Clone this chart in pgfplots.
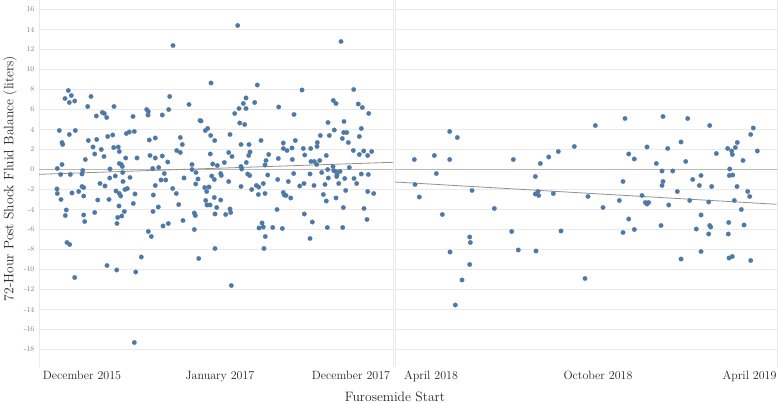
\documentclass[border=0pt]{standalone}
\usepackage{pgfplots}
\pgfplotsset{compat=1.18}

\definecolor{pts}{RGB}{78,121,167}
\definecolor{gridc}{RGB}{234,234,234}
\definecolor{zeroc}{RGB}{185,185,185}
\definecolor{trend}{RGB}{145,145,145}

% x values are positions along the date axis
\pgfplotsset{
  panel/.style={
    scale only axis,
    height=366.7pt,
    ymin=-19.72, ymax=16.95,
    ytick={-18,-16,...,16},
    separate axis lines,
    x axis line style={draw=none},
    y axis line style={draw=gridc},
    major tick length=0pt,
    ymajorgrids,
    grid style={draw=gridc, line width=0.7pt},
    extra y ticks={0},
    extra y tick labels={},
    extra y tick style={grid style={draw=zeroc, line width=0.8pt}},
    xticklabel style={font=\fontsize{12}{12}\selectfont, text=black!85, yshift=-1pt},
    yticklabel style={font=\fontsize{7.5}{8}\selectfont, text=black!50, xshift=-1pt},
    clip=false,
  },
  dots/.style={color=pts, only marks, mark=*, mark size=2.3pt,
    mark options={fill=pts, draw=pts, line width=0.1pt}},
}

\begin{document}
\begin{tikzpicture}
\useasboundingbox (0,0) rectangle (778pt,403pt);

% left panel
\begin{axis}[panel,
  at={(39pt,36.3pt)}, anchor=south west,
  width=354pt,
  xmin=39, xmax=393,
  xtick={82,220,351},
  xticklabels={December 2015, January 2017, December 2017},
  yticklabels={-18,-16,-14,-12,-10,-8,-6,-4,-2,0,2,4,6,8,10,12,14,16},
]
\addplot[trend, line width=0.8pt] coordinates {(39,-0.48) (393,0.72)};
\addplot[dots] coordinates {
(173,12.4)(68.3,7.9)(71.3,7.4)(65,7.1)(91,7.3)(74.7,6.85)(69.3,6.7)(169.7,7.3)(189,6.5)(87.7,6.3)
(114,6.3)(146.7,6.0)(148.3,5.8)(168.7,6.0)(102.3,5.7)(104.3,5.6)(96.3,5.35)(106.7,5.2)(148,5.45)(162.3,5.45)
(133,5.3)(200,4.9)(59.3,3.9)(75.3,3.9)(126.3,3.6)(129.3,3.75)(134.3,3.8)(69.3,3.5)(107.7,3.3)(112.7,3.45)
(180.3,3.2)(88.3,2.9)(96.7,3.0)(149.3,2.95)(155.3,3.15)(62,2.7)(62.7,2.5)(182.3,2.5)(93,2.25)(113.7,2.2)
(118.3,2.25)(101.3,2.0)(119.3,1.8)(176.7,1.9)(180.3,1.7)(94.7,1.55)(150,1.4)(104,1.3)(162.3,1.35)(125.7,1.15)
(137,1.15)(155.3,1.15)(85.3,1.0)(167.7,0.75)(62,0.5)(119.3,0.6)(121.3,0.5)(192,0.5)(122.3,0.3)(57.3,0.1)
(110,0.05)(152.7,0.1)(158.7,0.2)(192,0.0)(82.7,-0.1)(60.7,-0.5)(70.3,-0.5)(82,-0.45)(115.3,-0.65)(122.7,-0.3)
(164.3,-0.4)(196,-0.3)(109.7,-0.85)(130,-0.8)(184,-0.85)(198,-0.95)(123,-1.2)(161,-1.05)(165.7,-1.05)(100,-1.4)
(105,-1.65)(155.3,-1.6)(195.7,-1.45)(82,-1.7)(83.7,-1.8)(127.3,-1.9)(125,-2.0)(172.7,-1.9)(57,-1.95)(57.3,-2.4)
(72,-2.35)(78.7,-2.2)(116,-2.15)(119.3,-2.4)(135,-2.45)(153.3,-2.55)(176.3,-2.4)(61,-3.0)(97.7,-3.05)(109,-3.0)
(83.7,-2.65)(66.3,-4.05)(65.3,-4.6)(83.7,-4.55)(84.7,-5.2)(94.7,-4.3)(120.7,-2.65)(119,-3.65)(121.7,-4.65)(117.7,-4.8)
(124.3,-4.2)(117,-5.4)(133.3,-3.4)(153,-4.2)(158.3,-3.75)(178.7,-3.5)(183,-5.1)(163,-5.65)(168.3,-5.4)(148.3,-6.2)
(151.3,-6.7)(194.3,-4.35)(195.3,-4.6)(194.3,-6.0)(67,-7.3)(69.7,-7.5)(74.7,-10.8)(107,-9.6)(116.7,-10.05)(135.7,-10.25)
(141.3,-8.75)(198.7,-8.9)(134.3,-17.3)
(237.7,14.4)(341,12.8)(211,8.65)(257.3,8.45)(302,7.95)(353.7,8.0)(246,7.15)(243.3,6.6)(239,6.1)(246,6.1)
(254.7,6.7)(234.7,5.6)(278.7,6.25)(333.3,6.9)(336,6.6)(358.3,6.55)(362.3,6.2)(368.7,5.6)(294,5.5)(201,4.85)
(239.7,4.65)(244.7,4.5)(328,4.7)(344,4.8)(205.3,3.9)(207.7,4.1)(230,3.5)(334.3,3.95)(361.3,4.1)(210.7,3.4)
(214.7,2.9)(261,2.9)(295.3,2.9)(320.3,3.4)(329.3,3.4)(343.7,3.7)(346.7,3.7)(342.3,3.1)(359.3,3.3)(283.3,2.65)
(317.3,2.7)(348.3,2.7)(241,2.5)(249,2.5)(210.3,1.55)(228.7,1.7)(232,1.3)(250,1.75)(248.7,1.4)(268.7,1.5)
(283.3,2.1)(287,1.9)(292,2.15)(303.3,2.1)(310.7,2.1)(317,2.3)(304.7,1.45)(326.3,1.4)(353.3,1.9)(359.3,1.5)
(363.7,1.85)(371.7,1.8)(367.7,1.4)(278.3,1.1)(292.3,1.0)(266,0.9)(311,0.8)(314.3,0.8)(319.7,0.9)(316.7,0.5)
(212.7,0.55)(217.3,0.4)(224.3,0.7)(246.3,0.7)(265,0.45)(241,0.3)(241.7,0.05)(333,0.3)(349.3,0.2)(333.7,-0.1)
(335.7,-0.2)(340,-0.2)(327.7,0.0)(321.7,-0.3)(211.7,-0.65)(214.3,-1.0)(220.7,-0.4)(221.3,-0.6)(247.7,-0.45)(249.7,-0.6)
(267.7,-0.55)(293.7,-0.4)(310,-0.45)(336.7,-0.7)(337,-0.55)(344.7,-0.9)(354,-0.9)(361.3,-0.45)(368.3,-0.5)(228.7,-1.2)
(277.7,-1.0)(288.3,-1.2)(328.3,-0.85)(204.7,-1.8)(209,-1.75)(206.7,-2.2)(241,-1.7)(251.7,-2.0)(256.3,-1.6)(258.7,-1.75)
(263.3,-1.4)(299.7,-1.65)(304,-1.4)(314,-1.6)(325,-1.5)(338.7,-1.4)(345.7,-2.1)(356.7,-1.4)(367.7,-2.2)(373.7,-2.4)
(258.3,-2.5)(265,-2.4)(283.3,-2.3)(286,-2.6)(290.7,-2.85)(323.3,-2.5)(336,-2.85)(214.3,-2.8)
(284.3,-2.55)(326.3,-3.15)(205.7,-3.1)(207,-3.55)(210,-3.55)(216.7,-3.8)(220.7,-3.05)(215,-4.45)(225.7,-4.5)(230,-3.95)
(230.7,-4.3)(215,-7.9)(231.3,-11.6)(262,-5.35)(259,-5.85)(263.3,-5.75)(265.3,-6.7)(264,-7.9)(272.7,-5.8)(277,-4.0)
(282.3,-5.9)(304.3,-4.45)(312.3,-5.25)(310,-6.9)(327.3,-5.8)(342.7,-5.8)(343.3,-3.8)(364,-3.9)(367,-5.0)
};
\end{axis}

% right panel
\begin{axis}[panel,
  at={(395pt,36.3pt)}, anchor=south west,
  width=381.7pt,
  xmin=395, xmax=776.7,
  xtick={431,598,749.5},
  xticklabels={April 2018, October 2018, April 2019},
  yticklabels={},
]
\addplot[trend, line width=0.8pt] coordinates {(395,-1.25) (776.7,-3.48)};
\addplot[dots] coordinates {
(449.7,3.8)(457.3,3.2)(414.3,1.0)(434.3,1.4)(449.7,1.0)(513.3,1.0)(574.3,2.3)(558.3,1.8)(548.7,1.25)(540.3,0.6)
(436.3,-0.4)(535.3,-0.7)(415,-1.5)(419.3,-2.75)(472,-2.1)(535.3,-2.45)(538,-2.2)(538.7,-2.6)(553.3,-2.4)(588,-2.7)
(442.3,-4.5)(494.3,-3.9)(469.7,-6.75)(470.3,-7.3)(450,-8.25)(469.7,-9.5)(462,-11.05)(455.3,-13.55)(511.7,-6.2)(518.3,-8.05)
(536,-8.15)(561,-6.15)(585,-10.9)(595.3,4.4)(625,5.1)(663,5.3)(687.7,5.1)(709.7,4.4)(753.3,4.15)(750.7,3.5)
(647,2.25)(681,2.75)(667.7,2.1)(628.7,1.55)(634.3,1.05)(656.3,0.6)(685.7,0.8)(716.3,1.6)(727.7,2.1)(735.3,2.2)
(737.3,2.7)(731.7,1.85)(732.3,1.5)(743,0.9)(757.3,1.85)(662,-0.15)(672.7,-0.15)(729.7,0.05)(729.3,-0.6)(732.7,-0.55)
(701,-0.6)(692.7,-1.0)(663,-1.2)(662,-1.6)(623,-1.2)(699.3,-1.6)(711.7,-1.7)(737,-1.7)(677.3,-2.2)(747.7,-2.2)
(749.7,-2.7)(642,-2.6)(603,-3.8)(619.3,-3.1)(645.3,-3.3)(648.7,-3.3)(647,-3.45)(668.7,-3.55)(689.7,-3.1)(708.7,-3.25)
(734.3,-3.1)(741.3,-4.0)(628.7,-4.95)(623,-6.3)(634.3,-6.0)(661,-5.6)(701,-4.55)(696.3,-5.95)(709.7,-5.6)(710.7,-5.75)
(708.7,-6.45)(728.7,-5.3)(728.3,-6.45)(744,-5.55)(681,-8.95)(701,-8.2)(729,-8.85)(732.3,-8.7)(750.7,-9.1)
};
\end{axis}

\node[rotate=90, anchor=base, font=\fontsize{13.6}{14}\selectfont, text=black!85]
  at (13.3pt,224.5pt) {72-Hour Post Shock Fluid Balance (liters)};
\node[anchor=base, font=\fontsize{13.6}{14}\selectfont, text=black!85]
  at (395pt,1.5pt) {Furosemide Start};
\end{tikzpicture}
\end{document}
